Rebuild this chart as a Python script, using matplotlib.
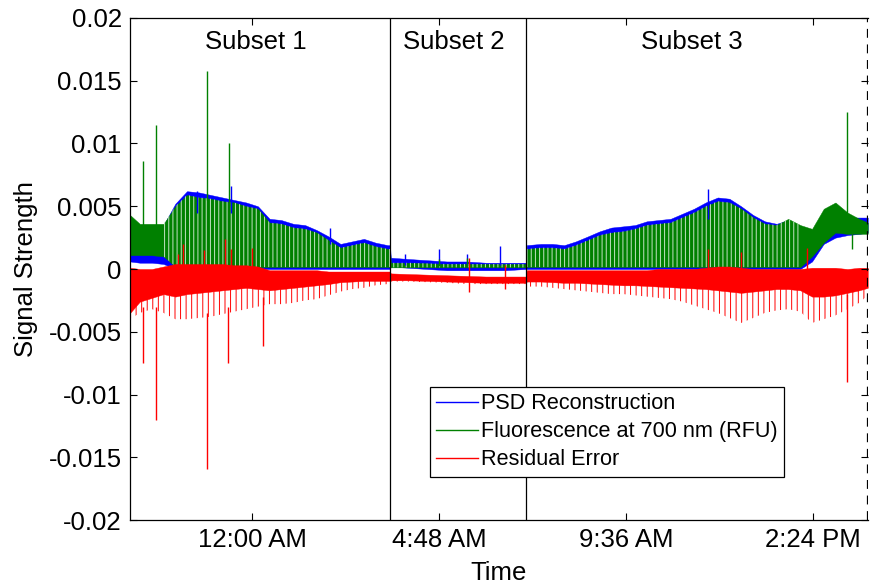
import matplotlib
matplotlib.use("Agg")
import matplotlib.pyplot as plt
import numpy as np
from matplotlib.lines import Line2D

# time axis in hours relative to midnight (subset 1 | subset 2 | subset 3)
T = [-3.13, -2.88, -2.57, -2.27, -1.97, -1.67, -1.36, -1.06, -0.76, -0.46, -0.15, 0.15,
     0.45, 0.75, 1.06, 1.36, 1.66, 1.96, 2.27, 2.57, 2.87, 3.17, 3.48, 3.54,
     3.56, 4.0, 4.5, 5.0, 5.5, 6.0, 6.5, 7.0, 7.03,
     7.05, 7.41, 7.71, 8.01, 8.31, 8.62, 8.92, 9.22, 9.53, 9.83, 10.13, 10.43, 10.74, 11.04,
     11.34, 11.64, 11.95, 12.25, 12.55, 12.86, 13.16, 13.46, 13.76, 14.07, 14.37, 14.67,
     14.97, 15.28, 15.58, 15.8]

# envelopes (x 1e-3)
green_hi = [4.3, 3.6, 3.6, 3.6, 5.0, 5.9, 5.7, 5.6, 5.4, 5.3, 5.0, 4.8,
            3.7, 3.6, 3.3, 3.2, 2.9, 2.3, 1.7, 1.9, 2.1, 1.8, 1.6, 1.6,
            0.5, 0.5, 0.45, 0.4, 0.4, 0.4, 0.4, 0.4, 0.4,
            1.6, 1.7, 1.7, 1.6, 1.9, 2.3, 2.7, 2.9, 3.0, 3.2, 3.5, 3.6, 3.7, 4.1,
            4.5, 5.0, 5.4, 5.3, 4.8, 4.1, 3.6, 3.5, 4.0, 3.5, 3.2, 4.8,
            5.3, 4.5, 4.0, 3.7]
green_lo = [1.1, 1.1, 1.1, 1.0, 0.2, 0.15, 0.15, 0.15, 0.15, 0.15, 0.15, 0.15,
            0.15, 0.15, 0.15, 0.15, 0.15, 0.15, 0.15, 0.15, 0.15, 0.15, 0.15, 0.15,
            0.13, 0.13, 0.13, 0.13, 0.13, 0.13, 0.13, 0.13, 0.13,
            0.15, 0.15, 0.15, 0.15, 0.15, 0.15, 0.15, 0.15, 0.15, 0.15, 0.15, 0.15, 0.15, 0.15,
            0.15, 0.15, 0.15, 0.15, 0.15, 0.15, 0.15, 0.15, 0.15, 0.15, 1.0, 2.1,
            2.9, 2.8, 2.8, 2.8]
blue_hi = [4.0, 3.4, 3.4, 3.5, 5.2, 6.2, 6.1, 5.9, 5.7, 5.5, 5.3, 5.0,
           4.0, 3.9, 3.6, 3.5, 3.1, 2.6, 2.0, 2.2, 2.4, 2.1, 1.9, 1.9,
           0.9, 0.8, 0.7, 0.6, 0.6, 0.5, 0.5, 0.5, 0.5,
           1.9, 2.0, 2.0, 1.9, 2.2, 2.6, 3.0, 3.3, 3.4, 3.5, 3.8, 3.9, 4.0, 4.4,
           4.8, 5.3, 5.7, 5.6, 5.0, 4.3, 3.8, 3.6, 3.9, 3.4, 2.9, 3.6,
           3.9, 4.1, 4.1, 4.1]
blue_lo = [0.6, 0.5, 0.5, 0.4, 0.0, 0.0, 0.0, 0.0, 0.0, 0.0, 0.0, 0.0,
           0.0, 0.0, 0.0, 0.0, 0.0, 0.0, 0.0, 0.0, 0.0, 0.0, 0.0, 0.0,
           0.2, 0.1, 0.0, -0.1, -0.1, -0.1, -0.1, 0.0, 0.0,
           0.0, 0.0, 0.0, 0.0, 0.0, 0.0, 0.0, 0.0, 0.0, 0.0, 0.0, 0.0, 0.0, 0.0,
           0.0, 0.0, 0.0, 0.0, 0.0, 0.0, 0.0, 0.0, 0.0, 0.0, 0.6, 2.0,
           2.5, 2.7, 2.8, 2.9]
red_hi = [0.1, 0.0, 0.0, 0.2, 0.4, 0.4, 0.4, 0.4, 0.4, 0.3, 0.3, 0.2,
          -0.1, -0.1, -0.1, -0.1, -0.1, -0.2, -0.2, -0.2, -0.2, -0.2, -0.2, -0.2,
          -0.35, -0.4, -0.45, -0.5, -0.55, -0.6, -0.6, -0.6, -0.6,
          -0.1, -0.1, -0.1, -0.1, -0.1, -0.1, -0.1, -0.1, -0.1, -0.1, -0.1, 0.0, 0.0, 0.0,
          0.0, 0.1, 0.2, 0.2, 0.1, 0.0, 0.0, 0.0, 0.0, 0.0, 0.1, 0.1,
          0.1, 0.0, 0.1, 0.1]
red_core = [-3.5, -2.6, -2.3, -2.0, -2.2, -2.0, -1.9, -1.8, -1.7, -1.6, -1.5, -1.6,
            -1.7, -1.6, -1.5, -1.4, -1.3, -1.2, -1.05, -1.0, -0.95, -0.95, -0.95, -0.95,
            -0.9, -0.9, -0.95, -1.0, -1.05, -1.1, -1.1, -1.1, -1.1,
            -1.0, -1.0, -1.05, -1.1, -1.1, -1.15, -1.2, -1.25, -1.3, -1.3, -1.35, -1.4, -1.45, -1.5,
            -1.55, -1.6, -1.7, -1.8, -1.9, -1.8, -1.7, -1.6, -1.6, -1.7, -2.2, -2.2,
            -2.1, -1.9, -1.7, -1.5]
red_lo = [-4.0, -3.5, -3.2, -3.5, -4.0, -4.0, -3.9, -3.8, -3.6, -3.4, -3.2, -3.0,
          -2.8, -2.8, -2.7, -2.5, -2.4, -2.1, -1.8, -1.6, -1.5, -1.3, -1.2, -1.2,
          -1.0, -1.0, -1.05, -1.1, -1.2, -1.2, -1.2, -1.2, -1.2,
          -1.4, -1.4, -1.5, -1.6, -1.7, -1.8, -1.9, -2.0, -2.0, -2.1, -2.2, -2.3, -2.4, -2.6,
          -2.9, -3.2, -3.5, -3.9, -4.3, -3.9, -3.5, -3.3, -3.2, -3.4, -4.3, -4.0,
          -3.7, -3.2, -2.7, -2.1]

# isolated spikes: time, from, to (x 1e-3)
green_spike_t = [-2.80, -2.46, -1.16, -0.60, 15.27, 15.40, 4.81, 5.52]
green_spike_lo = [3.5, 3.5, 5.5, 5.0, 4.0, 2.8, 0.2, 0.2]
green_spike_hi = [8.6, 11.5, 15.8, 10.0, 12.5, 1.6, 0.8, 0.9]
red_spike_t = [-2.80, -2.46, -1.16, -0.62, 0.27, 15.27,
               -1.91, -1.76, -1.24, -0.70, -0.55, 0.0, 5.56, 6.49, 11.7, 12.55, 14.25]
red_spike_lo = [-3.0, -3.0, -3.5, -3.0, -2.2, -2.0,
                -1.0, -1.0, -1.0, -1.0, -1.0, -1.0, -1.8, -1.6, -1.0, -1.5, -1.5]
red_spike_hi = [-7.5, -12.0, -15.9, -7.5, -6.1, -9.0,
                1.2, 2.0, 1.5, 2.4, 1.6, 1.7, 0.9, 0.3, 1.6, 1.35, 1.7]
blue_spike_t = [3.92, 4.81, 5.52, 6.36, 11.7, -0.55, -1.42, 2.01]
blue_spike_lo = [0.3, 0.3, 0.3, 0.3, 4.0, 4.5, 4.5, 2.0]
blue_spike_hi = [1.2, 1.6, 1.2, 1.8, 6.4, 6.6, 6.2, 3.3]

boundaries = [3.54, 7.03]
subset_names = ["Subset 1", "Subset 2", "Subset 3"]
tick_hours = [0.0, 4.8, 9.6, 14.4]
tick_labels = ["12:00 AM", "4:48 AM", "9:36 AM", "2:24 PM"]
ytick_vals = [-0.02, -0.015, -0.01, -0.005, 0, 0.005, 0.01, 0.015, 0.02]
ytick_labels = ["-0.02", "-0.015", "-0.01", "-0.005", "0", "0.005", "0.01", "0.015", "0.02"]

BLUE, GREEN, RED = "#0000ff", "#008000", "#ff0000"

plt.rcParams["font.family"] = ["Liberation Sans", "DejaVu Sans"]
plt.rcParams["hatch.linewidth"] = 0.7

t = np.array(T)
s = 1e-3
fig = plt.figure(figsize=(8.73, 5.86), dpi=100)
ax = fig.add_axes([0.149, 0.1126, 0.845, 0.8567])
x0, x1 = -3.13, 15.8
ax.set_xlim(x0, x1)
ax.set_ylim(-0.02, 0.02)

ax.fill_between(t, np.array(blue_lo) * s, np.array(blue_hi) * s, color=BLUE, lw=0.3)
ax.vlines(blue_spike_t, np.array(blue_spike_lo) * s, np.array(blue_spike_hi) * s, color=BLUE, lw=1)
ax.fill_between(t, np.array(green_lo) * s, np.array(green_hi) * s, color=GREEN, lw=0.3)
comb = (t > -2.3) & (t < 14.2)
ax.fill_between(t, np.array(green_lo) * s, np.array(green_hi) * s, where=comb,
                facecolor="none", edgecolor="#c4e2c4", hatch="||||", lw=0)
ax.vlines(green_spike_t, np.array(green_spike_lo) * s, np.array(green_spike_hi) * s, color=GREEN, lw=1)
ax.fill_between(t, np.array(red_core) * s, np.array(red_hi) * s, color=RED, lw=0.3)
ax.fill_between(t, np.array(red_lo) * s, np.array(red_core) * s,
                facecolor="none", edgecolor=RED, hatch="|||", lw=0)
ax.vlines(red_spike_t, np.array(red_spike_lo) * s, np.array(red_spike_hi) * s, color=RED, lw=1)

for b in boundaries:
    ax.axvline(b, color="black", lw=0.9)
ax.axvline(x1, color="black", lw=1.6, ls=(0, (4, 3)))

edges = [x0] + boundaries + [x1]
for i, name in enumerate(subset_names):
    ax.text((edges[i] + edges[i + 1]) / 2 - 0.12, 0.0181, name, ha="center", va="center", fontsize=18.5)

ax.set_xticks(tick_hours)
ax.set_xticklabels(tick_labels)
ax.set_yticks(ytick_vals)
ax.set_yticklabels(ytick_labels)
ax.tick_params(direction="in", top=True, right=True, length=5, labelsize=18.5, pad=6)
ax.set_xlabel("Time", fontsize=18.5, labelpad=6)
ax.set_ylabel("Signal Strength", fontsize=18.5, labelpad=8)
for sp in ax.spines.values():
    sp.set_linewidth(0.9)
ax.spines["right"].set_visible(False)

handles = [Line2D([], [], color=c, lw=1) for c in (BLUE, GREEN, RED)]
leg = ax.legend(handles, ["PSD Reconstruction", "Fluorescence at 700 nm (RFU)", "Residual Error"],
                loc="lower left", bbox_to_anchor=(0.4065, 0.0857), fontsize=15.6, frameon=True,
                fancybox=False, edgecolor="black", framealpha=1, handlelength=1.9,
                handletextpad=0.15, borderpad=0.3, labelspacing=0.33, borderaxespad=0)
leg.get_frame().set_linewidth(0.9)

fig.savefig("out.png", dpi=100)
